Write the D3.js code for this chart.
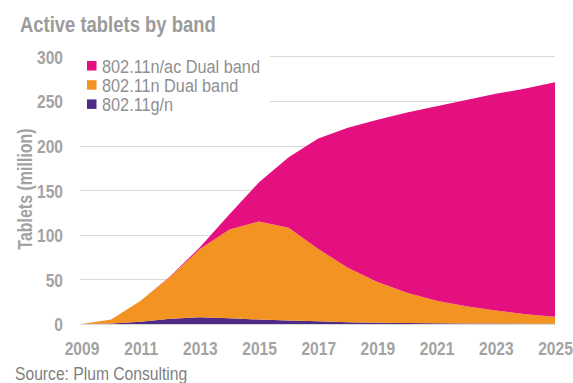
<!DOCTYPE html>
<html>
<head>
<meta charset="utf-8">
<script src="https://cdn.jsdelivr.net/npm/d3@7/dist/d3.min.js"></script>
<style>
    body { margin: 0; background: #fff; }
    #chart { width: 573px; height: 383px; }
</style>
</head>
<body>
<div id="chart"></div>
<script>
var years = [2009, 2010, 2011, 2012, 2013, 2014, 2015, 2016, 2017, 2018, 2019, 2020, 2021, 2022, 2023, 2024, 2025];
var tickYears = [2009, 2011, 2013, 2015, 2017, 2019, 2021, 2023, 2025];
var yTicks = [0, 50, 100, 150, 200, 250, 300];

// values in million tablets
var g_n = [0, 0.5, 2.5, 6, 7.5, 6.5, 5, 4, 3, 2, 1.5, 1, 0.8, 0.6, 0.5, 0.4, 0.3];
var n_dual = [0, 4.5, 23.5, 47, 76.5, 99.5, 110, 104, 81, 61, 45.5, 34, 25.2, 19.4, 14.5, 10.6, 7.7];
var nac_dual = [0, 0, 0, 0.5, 2, 17, 44, 79, 124, 157, 182, 202, 218, 231, 243, 253, 263];

var seriesNames = ["802.11g/n", "802.11n Dual band", "802.11n/ac Dual band"];
var seriesColours = ["#4f2a86", "#f39322", "#e5107f"];

var TabletChart = {
    init: function(){
        this.width = 573;
        this.height = 383;
        // no narrow face installed, so squeeze Liberation Sans sideways
        this.font = "'Liberation Sans', Arial, sans-serif";
        this.squeeze = 0.82;
        this.svg = d3.select("#chart")
            .append("svg")
            .attr("width", this.width)
            .attr("height", this.height);

        this.x = d3.scaleLinear().domain([2009, 2025]).range([81.5, 555]);
        this.y = d3.scaleLinear().domain([0, 300]).range([324, 56.4]);

        this.drawGrid();
        this.drawAreas();
        this.drawAxes();
        this.drawLegend();
        this.drawTexts();
    },

    drawGrid: function(){
        var self = this;
        this.svg.append("g")
            .selectAll("line")
            .data(yTicks)
            .enter()
            .append("line")
            .attr("x1", 80)
            .attr("x2", 555)
            .attr("y1", function(d){ return Math.round(self.y(d)) + 0.5; })
            .attr("y2", function(d){ return Math.round(self.y(d)) + 0.5; })
            .attr("stroke", "#d9d9d9")
            .attr("stroke-width", 1);
    },

    drawAreas: function(){
        var self = this;
        var rows = years.map(function(yr, i){
            return { year: yr, s0: g_n[i], s1: n_dual[i], s2: nac_dual[i] };
        });
        var stack = d3.stack().keys(["s0", "s1", "s2"]);
        var layers = stack(rows);

        var area = d3.area()
            .x(function(d){ return self.x(d.data.year); })
            .y0(function(d){ return self.y(d[0]); })
            .y1(function(d){ return self.y(d[1]); });

        this.svg.append("g")
            .selectAll("path")
            .data(layers)
            .enter()
            .append("path")
            .attr("d", area)
            .attr("fill", function(d, i){ return seriesColours[i]; });
    },

    drawAxes: function(){
        var self = this;
        var xAxis = d3.axisBottom(this.x)
            .tickValues(tickYears)
            .tickFormat(d3.format("d"))
            .tickSize(0)
            .tickPadding(0);
        var gx = this.svg.append("g")
            .attr("transform", "translate(0,355)")
            .call(xAxis);
        gx.select(".domain").remove();
        gx.selectAll("text")
            .attr("dy", 0)
            .attr("y", 0)
            .attr("transform", "scale(" + this.squeeze + ",1)")
            .attr("font-family", this.font)
            .attr("font-weight", "bold")
            .attr("font-size", 19)
            .attr("fill", "#a3a3a3");

        var yAxis = d3.axisLeft(this.y)
            .tickValues(yTicks)
            .tickSize(0)
            .tickPadding(0);
        var gy = this.svg.append("g")
            .attr("transform", "translate(63,0)")
            .call(yAxis);
        gy.select(".domain").remove();
        gy.selectAll("text")
            .attr("x", 0)
            .attr("dy", "0.36em")
            .attr("transform", "scale(" + this.squeeze + ",1)")
            .attr("font-family", this.font)
            .attr("font-weight", "bold")
            .attr("font-size", 19)
            .attr("fill", "#a3a3a3");
    },

    drawLegend: function(){
        var self = this;
        var order = [2, 1, 0];
        this.svg.append("rect")
            .attr("x", 80)
            .attr("y", 50)
            .attr("width", 190)
            .attr("height", 66)
            .attr("fill", "#fff");

        var items = this.svg.append("g")
            .selectAll("g")
            .data(order)
            .enter()
            .append("g")
            .attr("transform", function(d, i){ return "translate(87," + (72.5 + i * 19.2) + ")"; });
        items.append("rect")
            .attr("x", 0)
            .attr("y", -11.5)
            .attr("width", 9.5)
            .attr("height", 9.5)
            .attr("fill", function(d){ return seriesColours[d]; });
        items.append("text")
            .attr("transform", "translate(15,0) scale(0.88,1)")
            .text(function(d){ return seriesNames[d]; })
            .attr("font-family", this.font)
            .attr("font-size", 18.5)
            .attr("fill", "#8f8f8f");
    },

    drawTexts: function(){
        this.svg.append("text")
            .attr("transform", "translate(20,32) scale(" + this.squeeze + ",1)")
            .text("Active tablets by band")
            .attr("font-family", this.font)
            .attr("font-weight", "bold")
            .attr("font-size", 22.5)
            .attr("fill", "#9b9b9b");

        this.svg.append("text")
            .attr("transform", "translate(32,189) rotate(-90) scale(" + this.squeeze + ",1)")
            .attr("text-anchor", "middle")
            .text("Tablets (million)")
            .attr("font-family", this.font)
            .attr("font-weight", "bold")
            .attr("font-size", 19.5)
            .attr("fill", "#a3a3a3");

        this.svg.append("text")
            .attr("transform", "translate(15,379.5) scale(0.87,1)")
            .text("Source: Plum Consulting")
            .attr("font-family", this.font)
            .attr("font-size", 18)
            .attr("fill", "#7f7f7f");
    }
};

TabletChart.init();
</script>
</body>
</html>
